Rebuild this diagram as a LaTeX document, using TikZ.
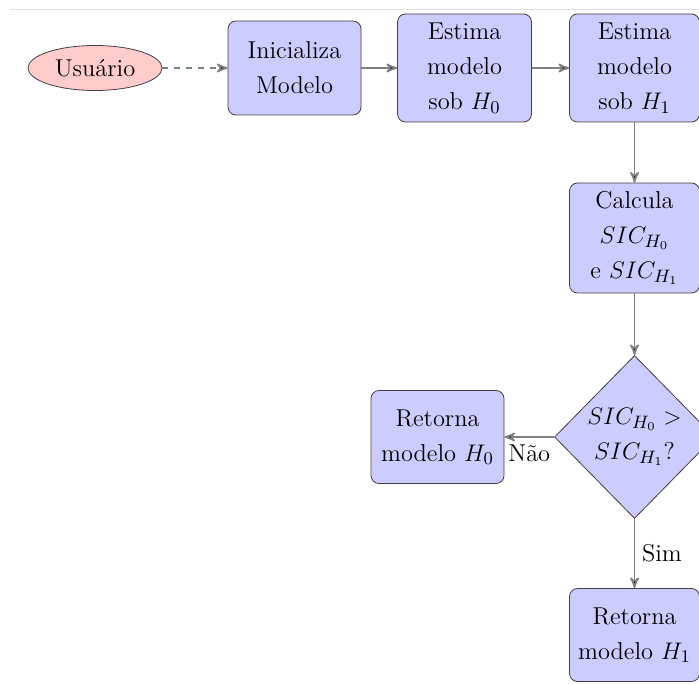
\documentclass[tikz,border=0pt]{standalone}
\usepackage{xcolor}
\usepackage{tikz}
\usetikzlibrary{shapes, shapes.geometric, arrows}

\begin{document}
\begin{tikzpicture}[->,>=stealth',auto,node distance=85pt,
      thick,
      main node/.style={rectangle,rounded corners=4pt,draw=black!75,thin,fill=blue!20,
        align=center,inner sep=0pt,font=\fontsize{12.2}{17.5}\selectfont},
      user node/.style={ellipse,draw=black!75,thin,fill=red!20,inner sep=0pt,
        minimum width=67pt,minimum height=22.5pt,font=\fontsize{12.2}{14}\selectfont},
      test node/.style={diamond,draw=black!75,thin,fill=blue!20,align=center,inner sep=0pt,
        minimum width=80pt,minimum height=81.5pt,font=\fontsize{12.2}{17.5}\selectfont},
      link/.style={draw=gray,line width=0.9pt}]

    \useasboundingbox (0,0) rectangle (349.5pt,-341.5pt);
    \draw[-,gray!25,thin] (5pt,-4.5pt) -- (349.5pt,-4.5pt);

        \node[user node] (user) at (47.5pt,-34pt) {Usuário};
        \node[main node,minimum width=66.5pt,minimum height=47pt] (init) [right of=user,node distance=99.75pt] {Inicializa\\Modelo};
        \node[main node,minimum width=67pt,minimum height=54pt] (estH0) [right of=init] {Estima\\modelo\\sob $H_0$};
        \node[main node,minimum width=65pt,minimum height=54pt] (estH1) [right of=estH0] {Estima\\modelo\\sob $H_1$};
        \node[main node,minimum width=65pt,minimum height=55pt] (calc) [below of=estH1] {Calcula\\$SIC_{H_0}$\\e $SIC_{H_1}$};
        \node[test node] (test) [below of=calc,node distance=99.5pt] {$SIC_{H_0}>$\\$SIC_{H_1}$?};
        \node[main node,minimum width=66.5pt,minimum height=46.5pt] (retH0) [left of=test,node distance=98.5pt] {Retorna\\modelo $H_0$};
        \node[main node,minimum width=65pt,minimum height=46.5pt] (retH1) [below of=test,node distance=99pt] {Retorna\\modelo $H_1$};

        \path[link,every node/.style={font=\fontsize{12.2}{14}\selectfont}]
            (user) edge[dashed] node {} (init)
            (init) edge node {} (estH0)
            (estH0) edge node {} (estH1)
            (estH1) edge node {} (calc)
            (calc) edge node {} (test)
            (test) edge node [below] {Não} (retH0)
            (test) edge node [right] {Sim} (retH1)
        ;
    \end{tikzpicture}
\end{document}
